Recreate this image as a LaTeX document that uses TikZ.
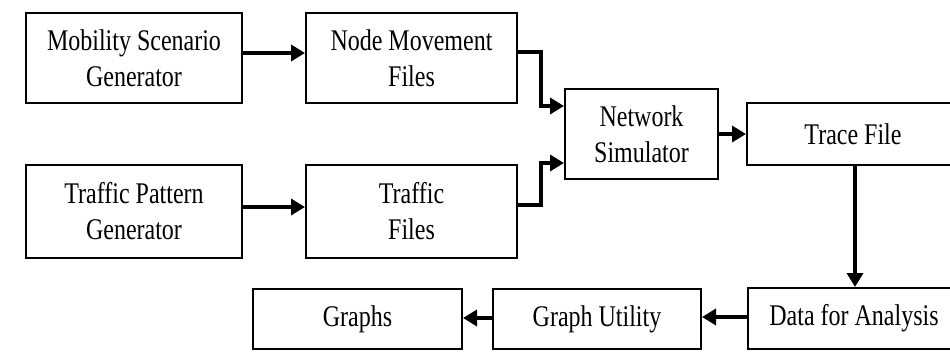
\documentclass[tikz,border=0pt]{standalone}
\usepackage{fontspec}
\setmainfont{Liberation Serif}[FakeStretch=0.8]
\usetikzlibrary{arrows.meta}
\tikzset{
  box/.style={draw=black, line width=2pt, rectangle, inner sep=0pt, align=center,
    font=\fontsize{30}{36}\selectfont},
  conn/.style={line width=3.5pt, -{Triangle[length=14pt,width=16pt]}},
}
\begin{document}
\begin{tikzpicture}[x=1pt,y=-1pt]
\useasboundingbox (0,0) rectangle (950,351);
\fill[white] (0,0) rectangle (950,351);
\clip (0,0) rectangle (950,351);
\node[box, minimum width=216pt, minimum height=90pt] (mob) at (134,58) {Mobility Scenario\\Generator};
\node[box, minimum width=211pt, minimum height=90pt] (nmf) at (411.5,58) {Node Movement\\Files};
\node[box, minimum width=216pt, minimum height=93pt] (tpg) at (134,211.5) {Traffic Pattern\\Generator};
\node[box, minimum width=211pt, minimum height=93pt] (tf) at (411.5,211.5) {Traffic\\Files};
\node[box, minimum width=153pt, minimum height=90pt] (ns) at (641.5,134) {Network\\Simulator};
\node[box, minimum width=212pt, minimum height=62pt] (trace) at (853,134) {Trace File};
\node[box, minimum width=212pt, minimum height=61pt] (data) at (854,318.5) {Data for Analysis};
\node[box, minimum width=208pt, minimum height=60pt] (gu) at (597,319) {Graph Utility};
\node[box, minimum width=209pt, minimum height=60pt] (gr) at (357.5,319) {Graphs};
\coordinate (j1) at (541,52);
\coordinate (j2) at (541,205);
\draw[conn] (mob.east |- 0,53) -- (nmf.west |- 0,53);
\draw[conn] (nmf.east |- j1) -- (j1) |- (ns.west |- 0,106);
\draw[conn] (tpg.east |- 0,207) -- (tf.west |- 0,207);
\draw[conn] (tf.east |- j2) -- (j2) |- (ns.west |- 0,163);
\draw[conn] (ns.east) -- (trace.west |- ns.east);
\draw[conn] (trace.south -| 855,0) -- (data.north -| 855,0);
\draw[conn] (data.west |- 0,317) -- (gu.east |- 0,317);
\draw[conn] (gu.west |- 0,318) -- (gr.east |- 0,318);
\end{tikzpicture}
\end{document}
